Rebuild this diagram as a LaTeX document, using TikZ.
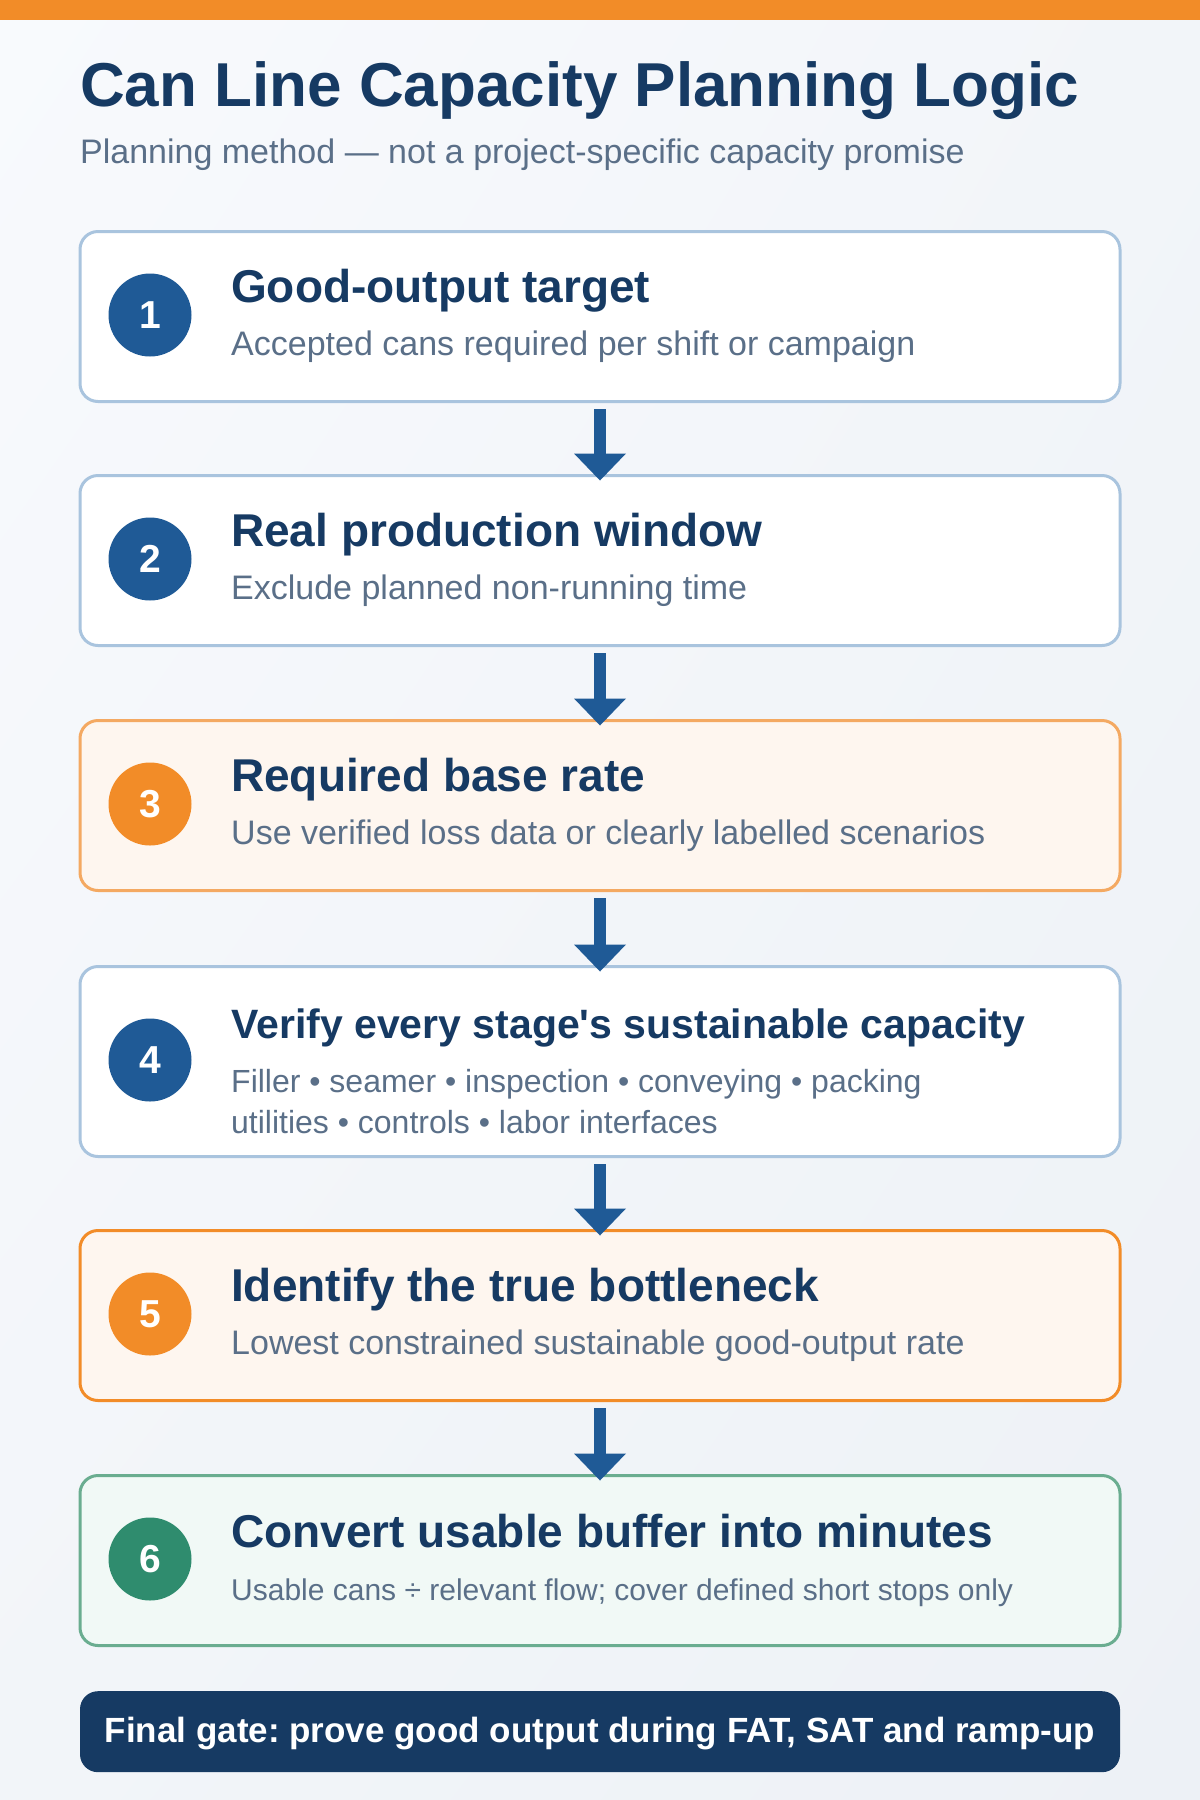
\documentclass[tikz,border=0pt]{standalone}
\usepackage{fontspec}
\setmainfont{Liberation Sans}[Ligatures=TeXOff]
\usetikzlibrary{arrows.meta,positioning,shadings}
\frenchspacing

\definecolor{navy}{HTML}{163A63}
\definecolor{slate}{HTML}{5A6F88}
\definecolor{blueC}{HTML}{1F5A96}
\definecolor{blueB}{HTML}{A9C4DE}
\definecolor{orangeC}{HTML}{F28C28}
\definecolor{orangeB}{HTML}{F4A962}
\definecolor{orangeF}{HTML}{FEF6EF}
\definecolor{greenC}{HTML}{2F8C6E}
\definecolor{greenB}{HTML}{6AAD90}
\definecolor{greenF}{HTML}{F1F9F6}
\definecolor{bgA}{HTML}{F8FAFD}
\definecolor{bgB}{HTML}{F2F5F9}
\definecolor{bgC}{HTML}{EDF1F6}

\begin{document}
\begin{tikzpicture}[x=1pt,y=-1pt,line join=round,
  stepbox/.style={draw,line width=3pt,rounded corners=18pt,minimum width=1040pt,minimum height=170pt,anchor=north,inner sep=0pt},
  numdot/.style={circle,minimum size=83pt,inner sep=0pt,text=white,font=\fontsize{39}{39}\selectfont\bfseries},
  head/.style={anchor=base west,inner sep=0pt,text=navy,font=\fontsize{46}{54}\selectfont\bfseries},
  note/.style={anchor=base west,inner sep=0pt,text=slate,align=left,font=\fontsize{34}{41}\selectfont},
  flow/.style={draw=blueC,line width=12pt,-{Triangle[width=52pt,length=27pt,line width=0pt]}}]
 		\useasboundingbox (0,0) rectangle (1200,1800);
 		\shade[upper left=bgA,upper right=bgB,lower left=bgB,lower right=bgC] (0,0) rectangle (1200,1800);
 		\fill[orangeC] (0,0) rectangle (1200,20);
 		\node[anchor=base west,inner sep=0pt,text=navy,font=\fontsize{62}{70}\selectfont\bfseries] (title) at (80,106) {Can Line Capacity Planning Logic};
 		\node[anchor=base west,inner sep=0pt,text=slate,font=\fontsize{34}{40}\selectfont] (subtitle) at (80,163) {Planning method — not a project-specific capacity promise};
 		\node[stepbox,draw=blueB,fill=white] (target) at (600,230) {};
 		\node[numdot,fill=blueC] (n1) at (150,315) {1};
 		\node[head] (targetT) at (231,302) {Good-output target};
 		\node[note] (targetS) at (231,355) {Accepted cans required per shift or campaign};
 		\node[stepbox,draw=blueB,fill=white] (window) at (600,474) {};
 		\node[numdot,fill=blueC] (n2) at (150,559) {2};
 		\node[head] (windowT) at (231,546) {Real production window};
 		\node[note] (windowS) at (231,599) {Exclude planned non-running time};
 		\node[stepbox,draw=orangeB,fill=orangeF] (rate) at (600,719) {};
 		\node[numdot,fill=orangeC] (n3) at (150,804) {3};
 		\node[head] (rateT) at (231,791) {Required base rate};
 		\node[note] (rateS) at (231,844) {Use verified loss data or clearly labelled scenarios};
 		\node[stepbox,draw=blueB,fill=white,minimum height=190pt] (stages) at (600,965) {};
 		\node[numdot,fill=blueC] (n4) at (150,1060) {4};
 		\node[head,font=\fontsize{41}{50}\selectfont\bfseries] (stagesT) at (231,1038) {Verify every stage's sustainable capacity};
 		\node[note,font=\fontsize{32}{41}\selectfont] (stagesS) at (231,1133) {Filler • seamer • inspection • conveying • packing\\utilities • controls • labor interfaces};
 		\node[stepbox,draw=orangeC,fill=orangeF] (neck) at (600,1229) {};
 		\node[numdot,fill=orangeC] (n5) at (150,1314) {5};
 		\node[head] (neckT) at (231,1301) {Identify the true bottleneck};
 		\node[note] (neckS) at (231,1354) {Lowest constrained sustainable good-output rate};
 		\node[stepbox,draw=greenB,fill=greenF] (buffer) at (600,1474) {};
 		\node[numdot,fill=greenC] (n6) at (150,1559) {6};
 		\node[head] (bufferT) at (231,1547) {Convert usable buffer into minutes};
 		\node[note,font=\fontsize{30}{36}\selectfont] (bufferS) at (231,1600) {Usable cans ÷ relevant flow; cover defined short stops only};
 		\node[fill=navy,rounded corners=18pt,minimum width=1040pt,minimum height=81pt,anchor=north,inner sep=0pt] (gate) at (600,1691) {};
 		\node[anchor=base,inner sep=0pt,text=white,font=\fontsize{35}{42}\selectfont\bfseries] (gateT) at (600,1742) {Final gate: prove good output during FAT, SAT and ramp-up};
 		\draw[flow] ([yshift=-6pt]target.south) -- ([yshift=-6.5pt]window.north);
 		\draw[flow] ([yshift=-6pt]window.south) -- ([yshift=-6.5pt]rate.north);
 		\draw[flow] ([yshift=-6pt]rate.south) -- ([yshift=-6.5pt]stages.north);
 		\draw[flow] ([yshift=-6pt]stages.south) -- ([yshift=-6.5pt]neck.north);
 		\draw[flow] ([yshift=-6pt]neck.south) -- ([yshift=-6.5pt]buffer.north);
 	\end{tikzpicture}
\end{document}
